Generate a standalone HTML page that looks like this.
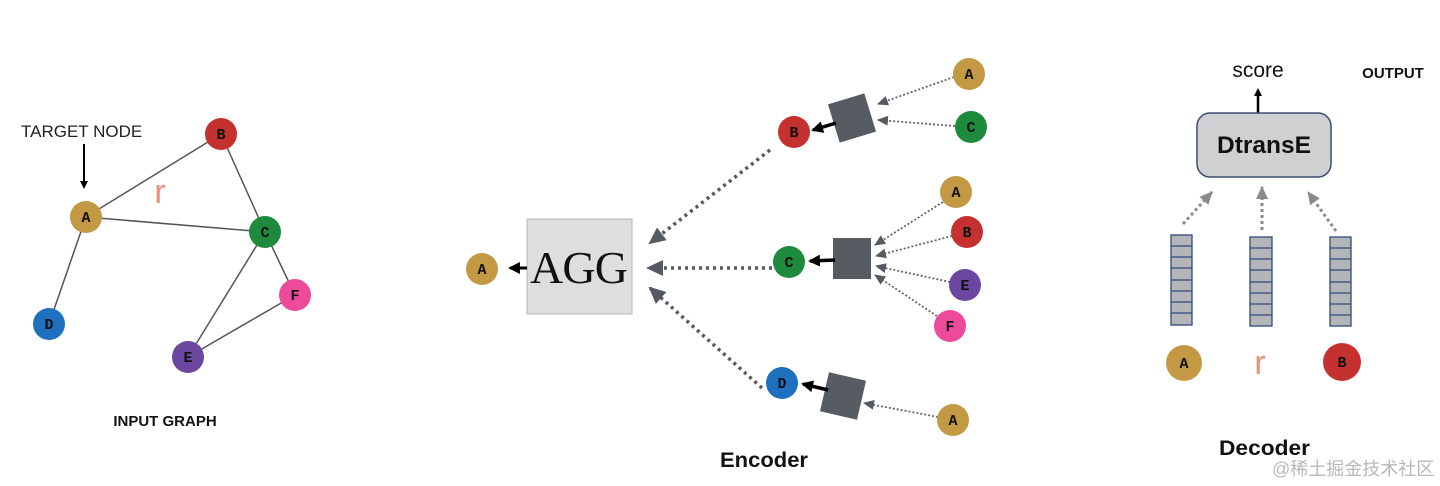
<!DOCTYPE html>
<html><head><meta charset="utf-8"><style>
html,body{margin:0;padding:0;background:#fff;}
svg{display:block;}
.n text{font-family:"Courier New","Liberation Mono",monospace;font-weight:bold;font-size:15px;fill:#111;text-anchor:middle;}
</style></head><body>
<svg width="1440" height="486" viewBox="0 0 1440 486" xmlns="http://www.w3.org/2000/svg">
<defs>
<marker id="blk" markerWidth="8" markerHeight="8" refX="6" refY="4" orient="auto" markerUnits="userSpaceOnUse"><path d="M0,0 L8,4 L0,8 z" fill="#000"/></marker>
<marker id="bigblk" markerWidth="14" markerHeight="14" refX="10" refY="7" orient="auto" markerUnits="userSpaceOnUse"><path d="M0,1 L12,7 L0,13 z" fill="#000"/></marker>
<marker id="gr" markerWidth="12" markerHeight="12" refX="10" refY="6" orient="auto" markerUnits="userSpaceOnUse"><path d="M0,1 L11,6 L0,11 z" fill="#555a60"/></marker>
<marker id="grbig" markerWidth="18" markerHeight="18" refX="15" refY="9" orient="auto" markerUnits="userSpaceOnUse"><path d="M0,1 L17,9 L0,17 z" fill="#555a60"/></marker>
<marker id="grd" markerWidth="14" markerHeight="14" refX="12" refY="7" orient="auto" markerUnits="userSpaceOnUse"><path d="M0,1 L13,7 L0,13 z" fill="#8a8a8a"/></marker>
</defs>

<g stroke="#555" stroke-width="1.5">
<line x1="86" y1="217" x2="221" y2="134"/>
<line x1="86" y1="217" x2="265" y2="232"/>
<line x1="86" y1="217" x2="49" y2="324"/>
<line x1="221" y1="134" x2="265" y2="232"/>
<line x1="265" y1="232" x2="188" y2="357"/>
<line x1="265" y1="232" x2="295" y2="295"/>
<line x1="295" y1="295" x2="188" y2="357"/>
</g>
<text x="21" y="137" font-family="Liberation Sans,sans-serif" font-size="17" fill="#222">TARGET NODE</text>
<line x1="84" y1="144" x2="84" y2="187" stroke="#000" stroke-width="2" marker-end="url(#blk)"/>
<text x="160" y="203" font-family="Liberation Sans,sans-serif" font-size="34" fill="#ef8f78" text-anchor="middle">r</text>
<g class="n">
<circle cx="86" cy="217" r="16" fill="#c39a43"/><text x="86" y="222">A</text>
<circle cx="221" cy="134" r="16" fill="#c5312e"/><text x="221" y="139">B</text>
<circle cx="265" cy="232" r="16" fill="#1e8a3c"/><text x="265" y="237">C</text>
<circle cx="49" cy="324" r="16" fill="#2070c0"/><text x="49" y="329">D</text>
<circle cx="188" cy="357" r="16" fill="#6b47a0"/><text x="188" y="362">E</text>
<circle cx="295" cy="295" r="16" fill="#ee4a9a"/><text x="295" y="300">F</text>
</g>
<text x="165" y="426" font-family="Liberation Sans,sans-serif" font-weight="bold" font-size="15" fill="#111" text-anchor="middle">INPUT GRAPH</text>

<rect x="527" y="219" width="105" height="95" fill="#dcdedf" stroke="#b5b5b5" stroke-width="1"/>
<text x="579" y="283" font-family="Liberation Serif,serif" font-size="46" fill="#111" text-anchor="middle" textLength="98">AGG</text>
<line x1="527" y1="268" x2="510" y2="268" stroke="#000" stroke-width="3" marker-end="url(#bigblk)"/>
<g class="n"><circle cx="482" cy="269" r="16" fill="#c39a43"/><text x="482" y="274">A</text></g>

<g stroke="#555a60" stroke-width="3.5" stroke-dasharray="3,4" fill="none">
<line x1="770" y1="150" x2="650" y2="243" marker-end="url(#grbig)"/>
<line x1="772" y1="268" x2="648" y2="268" marker-end="url(#grbig)"/>
<line x1="762" y1="388" x2="650" y2="288" marker-end="url(#grbig)"/>
</g>

<rect x="833" y="98" width="38" height="40" fill="#575c62" transform="rotate(-17 852 118)"/>
<rect x="833" y="238" width="38" height="41" fill="#575c62"/>
<rect x="824" y="376" width="38" height="40" fill="#575c62" transform="rotate(13 843 396)"/>

<g stroke="#000" stroke-width="3.5">
<line x1="836" y1="123" x2="813" y2="130" marker-end="url(#bigblk)"/>
<line x1="835" y1="260" x2="810" y2="261" marker-end="url(#bigblk)"/>
<line x1="828" y1="390" x2="803" y2="384" marker-end="url(#bigblk)"/>
</g>

<g stroke="#666" stroke-width="1.8" stroke-dasharray="2,2" fill="none">
<line x1="954" y1="77" x2="878" y2="104" marker-end="url(#gr)"/>
<line x1="955" y1="126" x2="878" y2="120" marker-end="url(#gr)"/>
<line x1="943" y1="202" x2="875" y2="245" marker-end="url(#gr)"/>
<line x1="952" y1="236" x2="876" y2="256" marker-end="url(#gr)"/>
<line x1="950" y1="282" x2="876" y2="266" marker-end="url(#gr)"/>
<line x1="937" y1="316" x2="875" y2="275" marker-end="url(#gr)"/>
<line x1="938" y1="417" x2="864" y2="403" marker-end="url(#gr)"/>
</g>

<g class="n">
<circle cx="794" cy="132" r="16" fill="#c5312e"/><text x="794" y="137">B</text>
<circle cx="789" cy="262" r="16" fill="#1e8a3c"/><text x="789" y="267">C</text>
<circle cx="782" cy="383" r="16" fill="#2070c0"/><text x="782" y="388">D</text>
<circle cx="969" cy="74" r="16" fill="#c39a43"/><text x="969" y="79">A</text>
<circle cx="971" cy="127" r="16" fill="#1e8a3c"/><text x="971" y="132">C</text>
<circle cx="956" cy="192" r="16" fill="#c39a43"/><text x="956" y="197">A</text>
<circle cx="967" cy="232" r="16" fill="#c5312e"/><text x="967" y="237">B</text>
<circle cx="965" cy="285" r="16" fill="#6b47a0"/><text x="965" y="290">E</text>
<circle cx="950" cy="326" r="16" fill="#ee4a9a"/><text x="950" y="331">F</text>
<circle cx="953" cy="420" r="16" fill="#c39a43"/><text x="953" y="425">A</text>
</g>
<text x="720" y="467" font-family="Liberation Sans,sans-serif" font-weight="bold" font-size="21" fill="#111" textLength="88" lengthAdjust="spacingAndGlyphs">Encoder</text>

<text x="1258" y="77" font-family="Liberation Sans,sans-serif" font-size="21" fill="#111" text-anchor="middle">score</text>
<text x="1393" y="78" font-family="Liberation Sans,sans-serif" font-weight="bold" font-size="15" fill="#111" text-anchor="middle">OUTPUT</text>
<line x1="1258" y1="113" x2="1258" y2="90" stroke="#000" stroke-width="2.5" marker-end="url(#blk)"/>
<rect x="1197" y="113" width="134" height="64" rx="13" fill="#cfd0d2" stroke="#3e4f6e" stroke-width="1.5"/>
<text x="1264" y="153" font-family="Liberation Sans,sans-serif" font-weight="bold" font-size="24" fill="#111" text-anchor="middle" textLength="94" lengthAdjust="spacingAndGlyphs">DtransE</text>

<g stroke="#8a8a8a" stroke-width="3" stroke-dasharray="3,3" fill="none">
<line x1="1183" y1="224" x2="1212" y2="192" marker-end="url(#grd)"/>
<line x1="1262" y1="230" x2="1262" y2="187" marker-end="url(#grd)"/>
<line x1="1336" y1="231" x2="1308" y2="192" marker-end="url(#grd)"/>
</g>

<g fill="#b4b5b8" stroke="#2e4a7a" stroke-width="1.3">
<rect x="1171" y="235" width="21" height="90"/>
<rect x="1250" y="237" width="22" height="89"/>
<rect x="1330" y="237" width="21" height="89"/>
</g>
<g stroke="#2e4a7a" stroke-width="1.3">
<line x1="1171" y1="246" x2="1192" y2="246"/><line x1="1171" y1="257" x2="1192" y2="257"/><line x1="1171" y1="268" x2="1192" y2="268"/><line x1="1171" y1="280" x2="1192" y2="280"/><line x1="1171" y1="291" x2="1192" y2="291"/><line x1="1171" y1="302" x2="1192" y2="302"/><line x1="1171" y1="313" x2="1192" y2="313"/>
<line x1="1250" y1="248" x2="1272" y2="248"/><line x1="1250" y1="259" x2="1272" y2="259"/><line x1="1250" y1="270" x2="1272" y2="270"/><line x1="1250" y1="282" x2="1272" y2="282"/><line x1="1250" y1="293" x2="1272" y2="293"/><line x1="1250" y1="304" x2="1272" y2="304"/><line x1="1250" y1="315" x2="1272" y2="315"/>
<line x1="1330" y1="248" x2="1351" y2="248"/><line x1="1330" y1="259" x2="1351" y2="259"/><line x1="1330" y1="270" x2="1351" y2="270"/><line x1="1330" y1="282" x2="1351" y2="282"/><line x1="1330" y1="293" x2="1351" y2="293"/><line x1="1330" y1="304" x2="1351" y2="304"/><line x1="1330" y1="315" x2="1351" y2="315"/>
</g>

<g class="n">
<circle cx="1184" cy="363" r="18" fill="#c39a43"/><text x="1184" y="368">A</text>
<circle cx="1342" cy="362" r="19" fill="#c5312e"/><text x="1342" y="367">B</text>
</g>
<text x="1260" y="374" font-family="Liberation Sans,sans-serif" font-size="34" fill="#ef8f78" text-anchor="middle">r</text>
<text x="1219" y="455" font-family="Liberation Sans,sans-serif" font-weight="bold" font-size="21" fill="#111" textLength="91" lengthAdjust="spacingAndGlyphs">Decoder</text>
<text x="1272" y="475" font-family="Liberation Sans,'Noto Sans CJK SC',sans-serif" font-size="18" fill="#b8b8b8">@稀土掘金技术社区</text>
</svg>
</body></html>
